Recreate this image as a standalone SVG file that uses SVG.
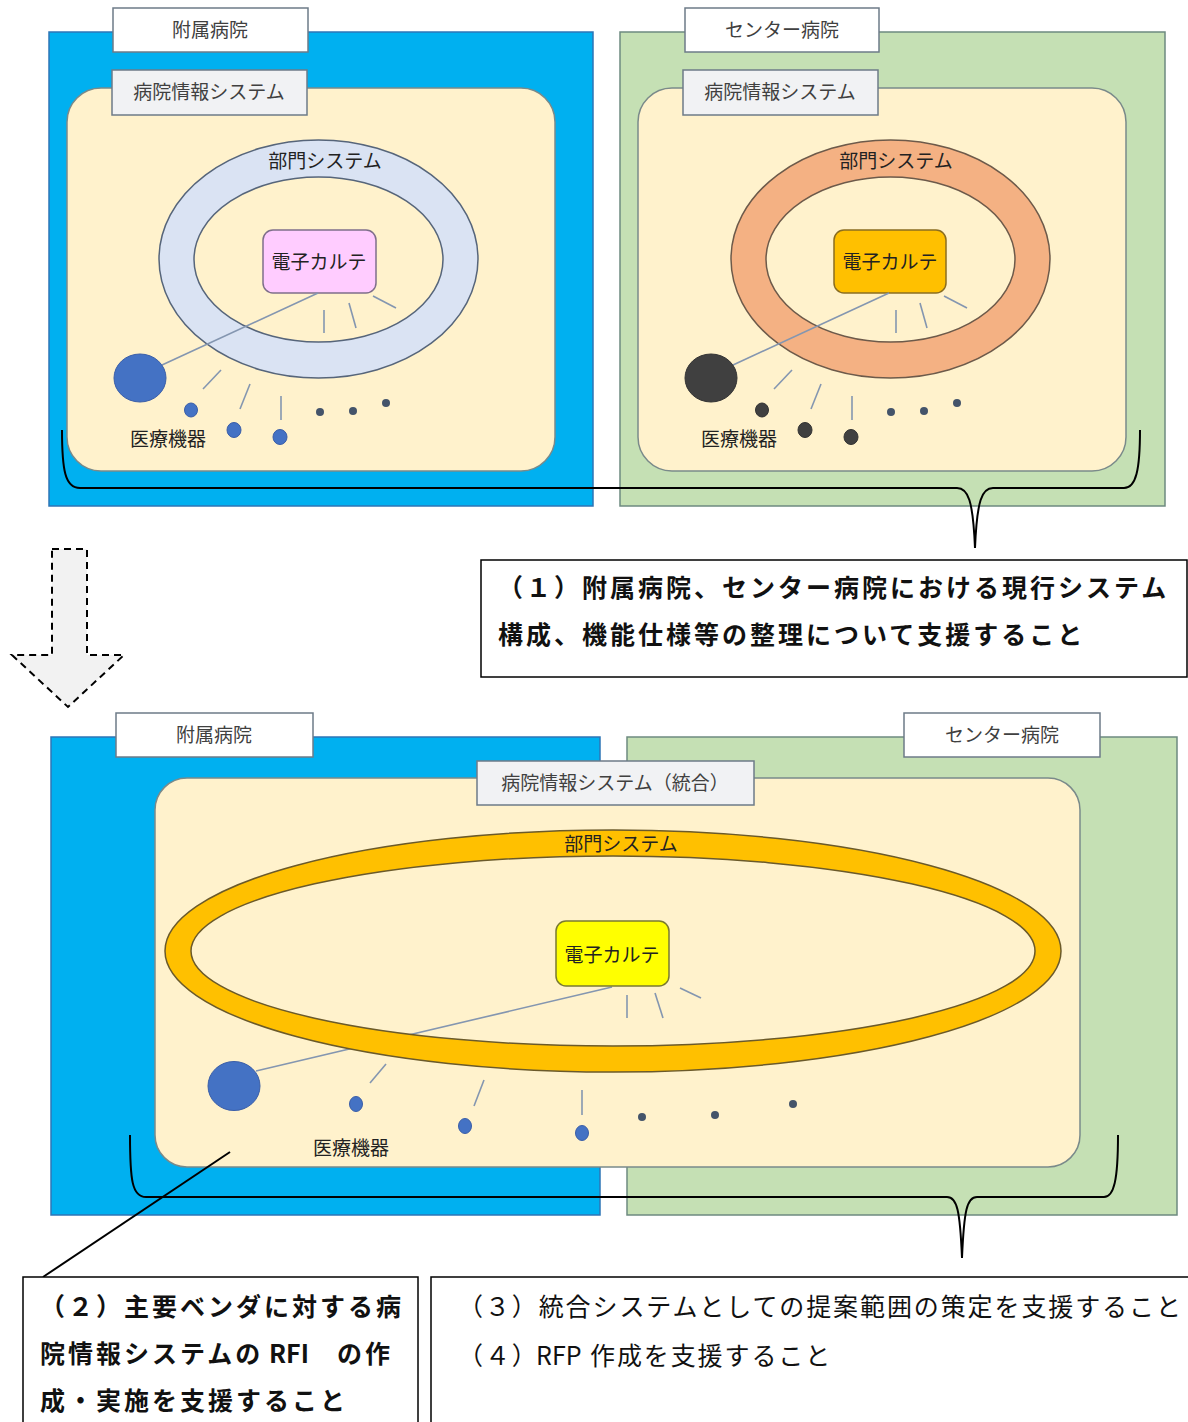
<svg xmlns="http://www.w3.org/2000/svg" width="1188" height="1422" viewBox="0 0 1188 1422">
<style>
text{font-family:"Noto Sans CJK JP","Noto Sans",sans-serif;}
.lbl{font-size:19px;fill:#404040;text-anchor:middle;}
.dk{font-size:19px;fill:#222;text-anchor:middle;}
.blue{fill:#00b0f0;stroke:#2e75b6;stroke-width:1.5;}
.green{fill:#c5e0b4;stroke:#6d8a80;stroke-width:1.5;}
.cream{fill:#fff2cc;stroke:#7a8a8a;stroke-width:1.5;}
.wlab{fill:#fff;stroke:#6d7b88;stroke-width:1.5;}
.glab{fill:#f1f2f4;stroke:#6d7b88;stroke-width:1.5;}
.dev{fill:#4472c4;stroke:#3a5ea8;stroke-width:1;}
.devd{fill:#404040;stroke:#333;stroke-width:1;}
.devs{fill:#44546a;}
.tick{stroke:#8496b0;stroke-width:1.6;fill:none;}
.conn{stroke:#8496b0;stroke-width:1.6;fill:none;}
.brace{stroke:#000;stroke-width:2;fill:none;}
.box{fill:#fff;stroke:#000;stroke-width:1.5;}
.big{font-size:25px;letter-spacing:3px;fill:#111;font-weight:bold;}
.big2{font-size:25px;letter-spacing:1.9px;fill:#111;}
.lat{letter-spacing:0px;}
</style>

<!-- Top-left: 附属病院 -->
<g id="top-left">
  <rect class="blue" x="49" y="32" width="544" height="474"/>
  <rect class="wlab" x="113" y="8" width="195" height="44"/>
  <text class="lbl" x="210" y="37">附属病院</text>
  <rect class="cream" x="67" y="88" width="488" height="383" rx="34"/>
  <rect class="glab" x="112" y="70" width="195" height="45"/>
  <text class="lbl" x="209" y="99">病院情報システム</text>
  <path d="M159,259 a159.5,119 0 1,0 319,0 a159.5,119 0 1,0 -319,0 Z M194,259.5 a124.5,82.5 0 1,0 249,0 a124.5,82.5 0 1,0 -249,0 Z" fill="#dae3f3" fill-rule="evenodd" stroke="#56657a" stroke-width="1.5"/>
  <text class="dk" x="325" y="168">部門システム</text>
  <rect x="263" y="230" width="113" height="63" rx="10" fill="#ffccff" stroke="#7f6f8a" stroke-width="1.5"/>
  <text class="dk" x="319" y="269">電子カルテ</text>
  <line class="conn" x1="318" y1="293" x2="162" y2="365"/>
  <ellipse class="dev" cx="140" cy="378" rx="26" ry="24"/>
  <line class="tick" x1="324" y1="310" x2="324" y2="333"/>
  <line class="tick" x1="349" y1="303" x2="356" y2="328"/>
  <line class="tick" x1="373" y1="296" x2="396" y2="308"/>
  <line class="tick" x1="221" y1="370" x2="203" y2="389"/>
  <line class="tick" x1="250" y1="384" x2="240" y2="409"/>
  <line class="tick" x1="281" y1="396" x2="281" y2="420"/>
  <ellipse class="dev" cx="191" cy="410" rx="6.5" ry="7"/>
  <ellipse class="dev" cx="234" cy="430" rx="7" ry="7.5"/>
  <ellipse class="dev" cx="280" cy="437" rx="7" ry="7.5"/>
  <circle class="devs" cx="320" cy="412" r="4"/>
  <circle class="devs" cx="353" cy="411" r="4"/>
  <circle class="devs" cx="386" cy="403" r="4"/>
  <text class="dk" x="168" y="446">医療機器</text>
</g>

<!-- Top-right: センター病院 -->
<g id="top-right">
  <rect class="green" x="620" y="32" width="545" height="474"/>
  <rect class="wlab" x="685" y="8" width="194" height="44"/>
  <text class="lbl" x="782" y="37">センター病院</text>
  <rect class="cream" x="638" y="88" width="488" height="383" rx="34"/>
  <rect class="glab" x="683" y="70" width="195" height="45"/>
  <text class="lbl" x="780" y="99">病院情報システム</text>
  <path d="M731,259 a159.5,119 0 1,0 319,0 a159.5,119 0 1,0 -319,0 Z M766,259.5 a124.5,82.5 0 1,0 249,0 a124.5,82.5 0 1,0 -249,0 Z" fill="#f4b183" fill-rule="evenodd" stroke="#6d5a4a" stroke-width="1.5"/>
  <text class="dk" x="896" y="168">部門システム</text>
  <rect x="834" y="230" width="112" height="63" rx="10" fill="#ffc000" stroke="#8a6d20" stroke-width="1.5"/>
  <text class="dk" x="890" y="269">電子カルテ</text>
  <line class="conn" x1="889" y1="293" x2="733" y2="365"/>
  <ellipse class="devd" cx="711" cy="378" rx="26" ry="24"/>
  <line class="tick" x1="896" y1="310" x2="896" y2="333"/>
  <line class="tick" x1="920" y1="303" x2="927" y2="328"/>
  <line class="tick" x1="944" y1="296" x2="967" y2="308"/>
  <line class="tick" x1="792" y1="370" x2="774" y2="389"/>
  <line class="tick" x1="821" y1="384" x2="811" y2="409"/>
  <line class="tick" x1="852" y1="396" x2="852" y2="420"/>
  <ellipse class="devd" cx="762" cy="410" rx="6.5" ry="7"/>
  <ellipse class="devd" cx="805" cy="430" rx="7" ry="7.5"/>
  <ellipse class="devd" cx="851" cy="437" rx="7" ry="7.5"/>
  <circle class="devs" cx="891" cy="412" r="4"/>
  <circle class="devs" cx="924" cy="411" r="4"/>
  <circle class="devs" cx="957" cy="403" r="4"/>
  <text class="dk" x="739" y="446">医療機器</text>
</g>

<!-- Dashed arrow -->
<g id="transition-arrow">
  <path d="M52,549 L87,549 L87,655 L124,655 L68,707 L12,655 L52,655 Z" fill="#f2f2f2" stroke="#000" stroke-width="2" stroke-dasharray="7,5"/>
</g>

<!-- Bottom: integrated -->
<g id="bottom">
  <rect class="blue" x="51" y="737" width="549" height="478"/>
  <rect class="green" x="627" y="737" width="550" height="478"/>
  <rect class="wlab" x="116" y="713" width="197" height="44"/>
  <text class="lbl" x="214" y="742">附属病院</text>
  <rect class="wlab" x="904" y="713" width="196" height="44"/>
  <text class="lbl" x="1002" y="742">センター病院</text>
  <rect class="cream" x="155" y="778" width="925" height="389" rx="32"/>
  <rect class="glab" x="477" y="761" width="277" height="44"/>
  <text class="lbl" x="615" y="790">病院情報システム（統合）</text>
  <line class="conn" x1="612" y1="987" x2="256" y2="1071"/>
  <path d="M165,951 a448,121 0 1,0 896,0 a448,121 0 1,0 -896,0 Z M191,951 a422,95 0 1,0 844,0 a422,95 0 1,0 -844,0 Z" fill="#ffc000" fill-rule="evenodd" stroke="#6b5a2a" stroke-width="1.5"/>
  <text class="dk" x="621" y="851">部門システム</text>
  <rect x="556" y="921" width="113" height="65" rx="10" fill="#ffff00" stroke="#7a7a30" stroke-width="1.5"/>
  <text class="dk" x="612" y="962">電子カルテ</text>
  <line class="tick" x1="627" y1="995" x2="627" y2="1018"/>
  <line class="tick" x1="655" y1="993" x2="663" y2="1018"/>
  <line class="tick" x1="680" y1="988" x2="701" y2="998"/>
  <line class="tick" x1="386" y1="1064" x2="370" y2="1083"/>
  <line class="tick" x1="484" y1="1080" x2="474" y2="1106"/>
  <line class="tick" x1="582" y1="1090" x2="582" y2="1115"/>
  <ellipse class="dev" cx="234" cy="1086" rx="26" ry="24.5"/>
  <ellipse class="dev" cx="356" cy="1104" rx="6.5" ry="7.5"/>
  <ellipse class="dev" cx="465" cy="1126" rx="6.5" ry="7.5"/>
  <ellipse class="dev" cx="582" cy="1133" rx="6.5" ry="7.5"/>
  <circle class="devs" cx="642" cy="1117" r="4"/>
  <circle class="devs" cx="715" cy="1115" r="4"/>
  <circle class="devs" cx="793" cy="1104" r="4"/>
  <text class="dk" x="351" y="1155">医療機器</text>
</g>

<!-- Connectors: braces and callout lines -->
<g id="connectors">
  <path class="brace" d="M62,430 C62,470 65,488 80,488 L957,488 C968,488 973,500 975,548 C977,500 982,488 993,488 L1124,488 C1136,488 1140,470 1140,430"/>
  <path class="brace" d="M130,1135 C130,1180 132,1197 146,1197 L947,1197 C957,1197 960,1210 962,1258 C964,1210 967,1197 977,1197 L1104,1197 C1114,1197 1118,1180 1118,1135"/>
  <line class="brace" x1="230" y1="1152" x2="43" y2="1277" stroke-width="1.5"/>
</g>

<!-- Text boxes -->
<g id="note-1">
  <rect class="box" x="481" y="560" width="706" height="117"/>
  <text class="big" x="498" y="597">（１）附属病院、センター病院における現行システム</text>
  <text class="big" x="498" y="644">構成、機能仕様等の整理について支援すること</text>
</g>
<g id="note-2">
  <rect class="box" x="23" y="1277" width="395" height="160"/>
  <text class="big" x="40" y="1316">（２）主要ベンダに対する病</text>
  <text class="big" x="40" y="1363">院情報システムの<tspan x="269" class="lat">RFI</tspan><tspan x="337">の作</tspan></text>
  <text class="big" x="40" y="1410">成・実施を支援すること</text>
</g>
<g id="note-3">
  <rect class="box" x="431" y="1277" width="770" height="160"/>
  <text class="big2" x="458" y="1316">（３）統合システムとしての提案範囲の策定を支援すること</text>
  <text class="big2" x="458" y="1365">（４）<tspan x="536" class="lat">RFP</tspan><tspan x="590">作成を支援すること</tspan></text>
</g>
</svg>
